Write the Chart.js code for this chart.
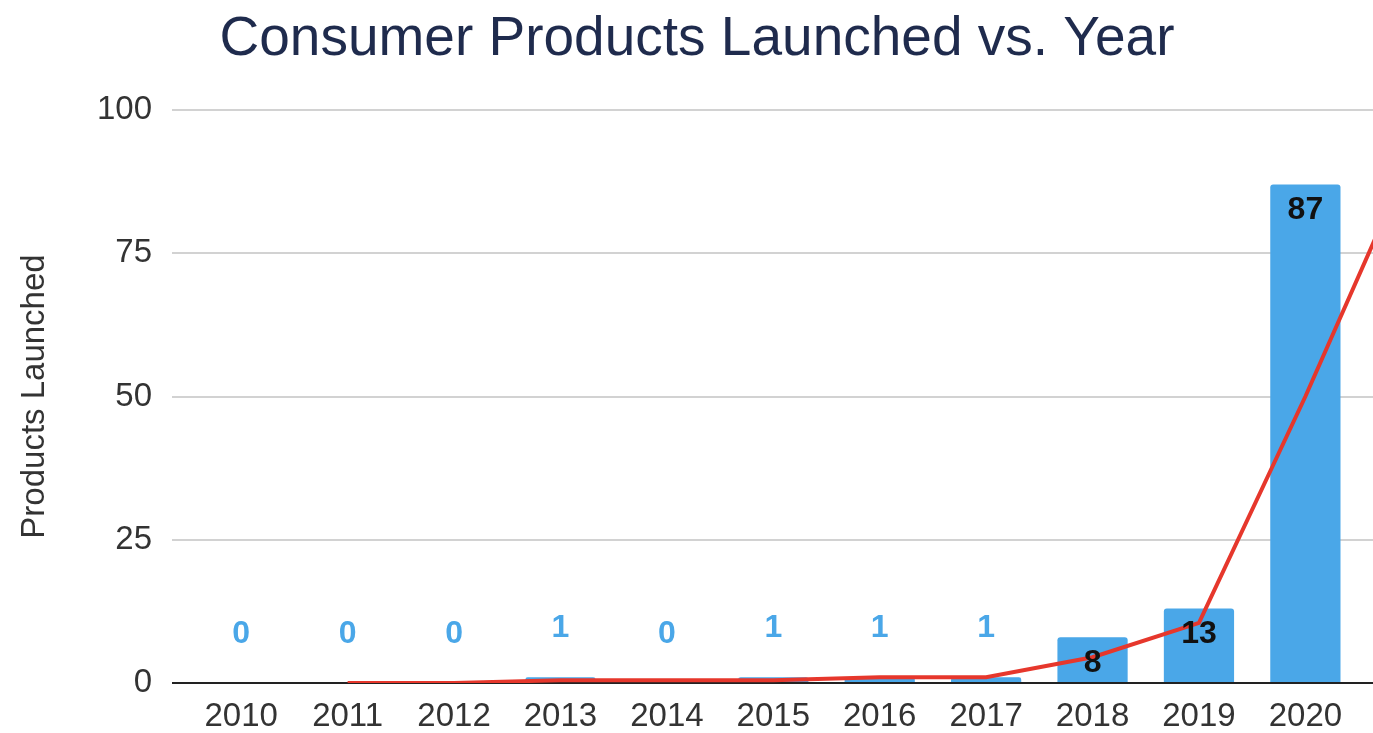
<!DOCTYPE html>
<html>
<head>
<meta charset="utf-8">
<title>Consumer Products Launched vs. Year</title>
<script src="https://cdn.jsdelivr.net/npm/chart.js@4"></script>
<style>
    html, body { margin: 0; padding: 0; background: #fff; overflow: hidden; }
    canvas { display: block; }
</style>
</head>
<body>
<canvas id="launchChart"></canvas>
<script>
'use strict';

// years shown on the axis (2021 sits just past the cropped right edge)
const years = ['2010', '2011', '2012', '2013', '2014', '2015', '2016', '2017', '2018', '2019', '2020', '2021'];
const launched = [0, 0, 0, 1, 0, 1, 1, 1, 8, 13, 87, null];
// 2-period moving average drawn as the red trend line
const trend = [null, 0, 0, 0.5, 0.5, 0.5, 1, 1, 4.5, 10.5, 50, 92];
const yTicks = [0, 25, 50, 75, 100];

const chartTitle = 'Consumer Products Launched vs. Year';
const yTitle = 'Products Launched';

const barColor = '#4aa7e8';
const lineColor = '#e6372c';
const fontFamily = "'Liberation Sans', Arial, sans-serif";

document.addEventListener('DOMContentLoaded', function () {
    const canvas = document.getElementById('launchChart');
    canvas.width = 1470;
    canvas.height = 733;

    const titlePlugin = {
        id: 'topTitle',
        afterDraw(chart) {
            const ctx = chart.ctx;
            ctx.save();
            ctx.font = `55px ${fontFamily}`;
            ctx.fillStyle = '#1f2b4d';
            ctx.textAlign = 'center';
            ctx.textBaseline = 'alphabetic';
            ctx.fillText(chartTitle, 697, 55);
            ctx.restore();
        }
    };

    const valueLabels = {
        id: 'valueLabels',
        afterDatasetsDraw(chart) {
            const ctx = chart.ctx;
            const meta = chart.getDatasetMeta(1);
            ctx.save();
            ctx.font = `bold 32px ${fontFamily}`;
            ctx.textAlign = 'center';
            ctx.textBaseline = 'middle';
            meta.data.forEach((bar, i) => {
                const v = launched[i];
                if (v === null) return;
                if (v >= 5) {
                    ctx.fillStyle = '#111';
                    ctx.fillText(String(v), bar.x, bar.y + 26);
                } else {
                    ctx.fillStyle = barColor;
                    ctx.fillText(String(v), bar.x, bar.y - 49);
                }
            });
            ctx.restore();
        }
    };

    new Chart(canvas.getContext('2d'), {
        data: {
            labels: years,
            datasets: [{
                type: 'line',
                label: 'Trend',
                data: trend,
                borderColor: lineColor,
                backgroundColor: lineColor,
                borderWidth: 4,
                pointRadius: 0,
                tension: 0,
                fill: false,
                order: 0
            }, {
                type: 'bar',
                label: 'Products Launched',
                data: launched,
                backgroundColor: barColor,
                borderRadius: { topLeft: 3, topRight: 3 },
                borderSkipped: 'start',
                categoryPercentage: 1,
                barPercentage: 0.66,
                order: 1
            }]
        },
        options: {
            responsive: false,
            animation: false,
            layout: { padding: { top: 110, right: 5, left: 0, bottom: 0 } },
            plugins: {
                legend: { display: false },
                title: { display: false },
                tooltip: { enabled: false }
            },
            scales: {
                x: {
                    afterFit: scale => { scale.height = 50; },
                    grid: { display: false, drawTicks: false },
                    border: { display: false },
                    ticks: {
                        color: '#333',
                        font: { family: fontFamily, size: 33 },
                        padding: 14,
                        maxRotation: 0,
                        autoSkip: false
                    }
                },
                y: {
                    min: 0,
                    max: 100,
                    afterBuildTicks: scale => { scale.ticks = yTicks.map(v => ({ value: v })); },
                    afterFit: scale => { scale.width = 188; },
                    grid: {
                        color: c => (c.tick && c.tick.value === 0 ? '#222' : '#d2d2d2'),
                        lineWidth: 2,
                        tickLength: 16
                    },
                    border: { display: false },
                    ticks: {
                        color: '#333',
                        font: { family: fontFamily, size: 33 },
                        padding: 20
                    },
                    title: {
                        display: true,
                        text: yTitle,
                        color: '#333',
                        font: { family: fontFamily, size: 33 },
                        padding: { top: 15, bottom: 0 }
                    }
                }
            }
        },
        plugins: [valueLabels, titlePlugin]
    });
});
</script>
</body>
</html>
